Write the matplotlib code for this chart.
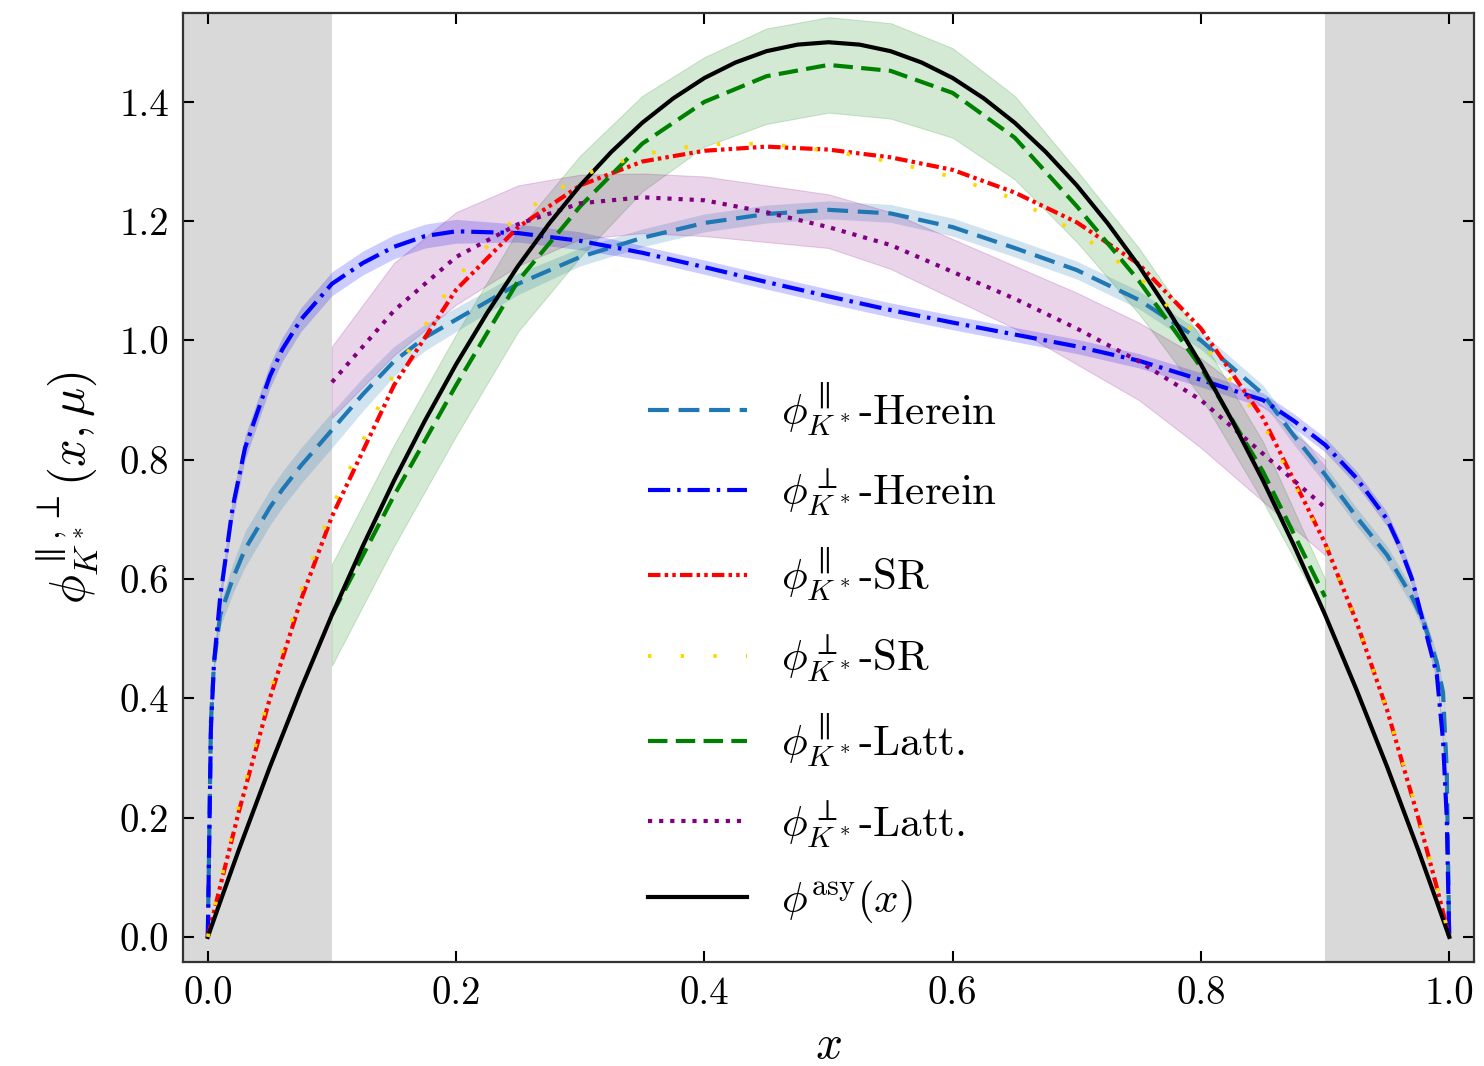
import matplotlib
matplotlib.use('Agg')
import matplotlib.pyplot as plt
import numpy as np
from matplotlib import rcParams

rcParams['font.family'] = 'serif'
rcParams['font.serif'] = ['cmr10']
rcParams['mathtext.fontset'] = 'cm'
rcParams['axes.formatter.use_mathtext'] = True
rcParams['axes.linewidth'] = 1.6
rcParams['axes.edgecolor'] = '#333333'
rcParams['lines.scale_dashes'] = False
rcParams['xtick.labelsize'] = 28
rcParams['ytick.labelsize'] = 28

# --- data ---
x_herein = [0, 0.0025, 0.005, 0.01, 0.02, 0.03, 0.04, 0.05, 0.06, 0.075,
            0.1, 0.125, 0.15, 0.175, 0.2, 0.25, 0.3, 0.35, 0.4, 0.45,
            0.5, 0.55, 0.6, 0.65, 0.7, 0.75, 0.8, 0.85, 0.875, 0.9,
            0.925, 0.95, 0.96, 0.97, 0.98, 0.99, 0.995, 0.998, 1.0]
herein_perp = [0, 0.35, 0.46, 0.57, 0.72, 0.82, 0.88, 0.94, 0.985, 1.035,
               1.095, 1.13, 1.157, 1.175, 1.183, 1.18, 1.167, 1.147, 1.123, 1.098,
               1.074, 1.051, 1.03, 1.01, 0.99, 0.966, 0.934, 0.90, 0.865, 0.825,
               0.77, 0.70, 0.655, 0.60, 0.52, 0.44, 0.33, 0.20, 0]
herein_perp_err = [0, 0.01, 0.01, 0.015, 0.02, 0.02, 0.02, 0.02, 0.02, 0.02,
                   0.02, 0.02, 0.02, 0.02, 0.02, 0.015, 0.015, 0.012, 0.012, 0.012,
                   0.012, 0.012, 0.012, 0.012, 0.012, 0.012, 0.012, 0.012, 0.012, 0.012,
                   0.012, 0.012, 0.012, 0.012, 0.012, 0.012, 0.01, 0.01, 0]
herein_par = [0, 0.36, 0.46, 0.54, 0.60, 0.65, 0.685, 0.72, 0.75, 0.79,
              0.85, 0.91, 0.965, 1.005, 1.035, 1.095, 1.14, 1.172, 1.197, 1.212,
              1.219, 1.213, 1.19, 1.155, 1.118, 1.068, 1.00, 0.91, 0.84, 0.775,
              0.705, 0.64, 0.605, 0.57, 0.525, 0.46, 0.41, 0.28, 0]
herein_par_err = [0, 0.01, 0.015, 0.02, 0.025, 0.03, 0.03, 0.03, 0.03, 0.03,
                  0.03, 0.028, 0.025, 0.022, 0.02, 0.018, 0.015, 0.015, 0.015, 0.015,
                  0.015, 0.015, 0.015, 0.015, 0.015, 0.015, 0.015, 0.015, 0.015, 0.015,
                  0.015, 0.015, 0.015, 0.015, 0.015, 0.015, 0.01, 0.01, 0]

x_sr = [0, 0.01, 0.025, 0.05, 0.075, 0.1, 0.15, 0.2, 0.25, 0.3, 0.35, 0.4, 0.45,
        0.5, 0.55, 0.6, 0.65, 0.7, 0.75, 0.8, 0.85, 0.9, 0.925, 0.95, 0.975, 0.99, 1.0]
sr_par = [0, 0.085, 0.21, 0.40, 0.565, 0.705, 0.925, 1.085, 1.19, 1.26, 1.30, 1.318, 1.325,
          1.32, 1.307, 1.286, 1.248, 1.198, 1.128, 1.02, 0.87, 0.66, 0.53, 0.38, 0.20, 0.083, 0]
sr_perp = [0, 0.09, 0.22, 0.41, 0.58, 0.72, 0.945, 1.105, 1.21, 1.276, 1.312, 1.329, 1.33,
           1.318, 1.30, 1.274, 1.237, 1.182, 1.107, 1.001, 0.86, 0.66, 0.53, 0.38, 0.205, 0.085, 0]

x_asy = [0, 0.01, 0.025, 0.05, 0.075, 0.1, 0.125, 0.15, 0.175, 0.2, 0.225, 0.25, 0.275,
         0.3, 0.325, 0.35, 0.375, 0.4, 0.425, 0.45, 0.475, 0.5, 0.525, 0.55, 0.575,
         0.6, 0.625, 0.65, 0.675, 0.7, 0.725, 0.75, 0.775, 0.8, 0.825, 0.85, 0.875,
         0.9, 0.925, 0.95, 0.975, 0.99, 1.0]
asy = [0, 0.059, 0.146, 0.285, 0.416, 0.54, 0.656, 0.765, 0.866, 0.96, 1.046, 1.125, 1.196,
       1.26, 1.316, 1.365, 1.406, 1.44, 1.466, 1.485, 1.496, 1.5, 1.496, 1.485, 1.466,
       1.44, 1.406, 1.365, 1.316, 1.26, 1.196, 1.125, 1.046, 0.96, 0.866, 0.765, 0.656,
       0.54, 0.416, 0.285, 0.146, 0.059, 0]

x_latt = [0.1, 0.15, 0.2, 0.25, 0.3, 0.35, 0.4, 0.45, 0.5, 0.55, 0.6, 0.65, 0.7, 0.75, 0.8, 0.85, 0.9]
latt_par = [0.54, 0.74, 0.925, 1.10, 1.225, 1.33, 1.40, 1.443, 1.462, 1.452, 1.415, 1.34, 1.225,
            1.10, 0.955, 0.78, 0.57]
latt_par_err = [0.085, 0.085, 0.085, 0.085, 0.085, 0.08, 0.075, 0.08, 0.08, 0.08, 0.075, 0.07,
                0.06, 0.055, 0.05, 0.05, 0.03]
latt_perp = [0.93, 1.05, 1.14, 1.195, 1.23, 1.24, 1.235, 1.215, 1.19, 1.16, 1.115, 1.07, 1.02,
             0.965, 0.90, 0.81, 0.72]
latt_perp_lo = [0.87, 0.975, 1.06, 1.125, 1.17, 1.18, 1.175, 1.165, 1.155, 1.12, 1.07, 1.02, 0.96,
                0.90, 0.82, 0.73, 0.64]
latt_perp_hi = [0.99, 1.13, 1.215, 1.26, 1.278, 1.28, 1.275, 1.26, 1.245, 1.215, 1.17, 1.125, 1.08,
                1.03, 0.97, 0.89, 0.80]

labels = [r'$\phi^{\parallel}_{K^*}$-Herein', r'$\phi^{\perp}_{K^*}$-Herein',
          r'$\phi^{\parallel}_{K^*}$-SR', r'$\phi^{\perp}_{K^*}$-SR',
          r'$\phi^{\parallel}_{K^*}$-Latt.', r'$\phi^{\perp}_{K^*}$-Latt.',
          r'$\phi^{\mathrm{asy}}(x)$']

c_par = '#1f77b4'
c_perp = '#0000ff'

fig = plt.figure(figsize=(14.84, 10.66), dpi=100)
ax = fig.add_axes([0.1233, 0.0976, 0.870, 0.8902])

ax.axvspan(-0.02, 0.1, color='#d9d9d9', lw=0, zorder=0)
ax.axvspan(0.9, 1.02, color='#d9d9d9', lw=0, zorder=0)

xh = np.array(x_herein)
hp, hpe = np.array(herein_par), np.array(herein_par_err)
hq, hqe = np.array(herein_perp), np.array(herein_perp_err)
ax.fill_between(xh, hp - hpe, hp + hpe, color=c_par, alpha=0.2, lw=0, zorder=1)
ax.fill_between(xh, hq - hqe, hq + hqe, color=c_perp, alpha=0.2, lw=0, zorder=1)

xl = np.array(x_latt)
lp, lpe = np.array(latt_par), np.array(latt_par_err)
ax.fill_between(xl, lp - lpe, lp + lpe, color='green', alpha=0.17, lw=0.8, zorder=1)
ax.fill_between(xl, latt_perp_lo, latt_perp_hi, color='purple', alpha=0.17, lw=0.8, zorder=1)

ax.plot(x_herein, herein_par, color=c_par, lw=3, dashes=(15, 7), label=labels[0], zorder=3)
ax.plot(x_herein, herein_perp, color=c_perp, lw=3, dashes=(16, 5, 2.5, 5), label=labels[1], zorder=3)
ax.plot(x_sr, sr_par, color='red', lw=3, dashes=(9, 3, 2.5, 3, 2.5, 3), label=labels[2], zorder=3)
ax.plot(x_sr, sr_perp, color='gold', lw=2.8, dashes=(2.5, 21), label=labels[3], zorder=4)
ax.plot(x_latt, latt_par, color='green', lw=3, dashes=(14, 6), label=labels[4], zorder=3)
ax.plot(x_latt, latt_perp, color='purple', lw=3, dashes=(3, 5), label=labels[5], zorder=3)
ax.plot(x_asy, asy, color='black', lw=3, label=labels[6], zorder=3)

ax.set_xlim(-0.02, 1.02)
ax.set_ylim(-0.042, 1.549)
ax.set_xticks([0.0, 0.2, 0.4, 0.6, 0.8, 1.0])
ax.set_yticks([0.0, 0.2, 0.4, 0.6, 0.8, 1.0, 1.2, 1.4])
ax.xaxis.set_major_formatter(matplotlib.ticker.FormatStrFormatter('%.1f'))
ax.yaxis.set_major_formatter(matplotlib.ticker.FormatStrFormatter('%.1f'))
ax.tick_params(direction='in', length=8, width=1.5, top=True, right=True, pad=10)

ax.set_xlabel(r'$x$', fontsize=34, labelpad=10)
ax.set_ylabel(r'$\phi^{\parallel,\perp}_{K^*}(x,\mu)$', fontsize=35, labelpad=14)

ax.legend(loc='upper left', bbox_to_anchor=(0.36, 0.613), frameon=False, fontsize=31,
          handlelength=2.3, handletextpad=0.8, labelspacing=0.66, borderpad=0, borderaxespad=0)

fig.savefig('out.png', dpi=100)
